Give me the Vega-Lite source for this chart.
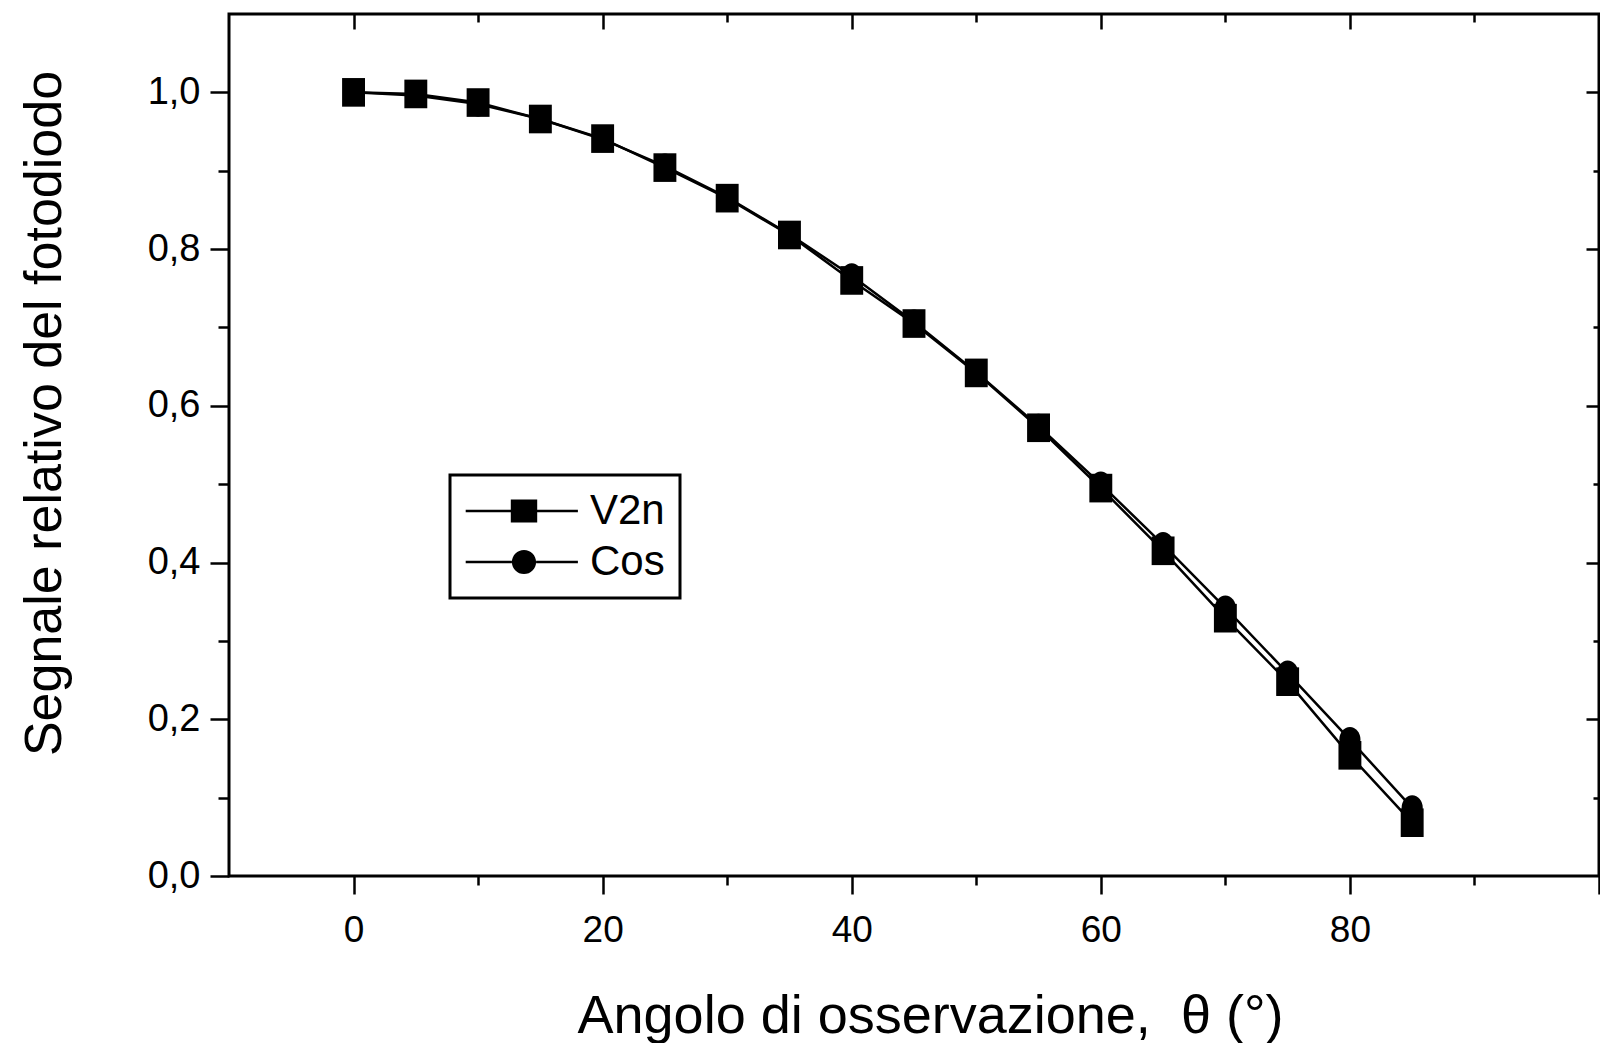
{
  "$schema": "https://vega.github.io/schema/vega-lite/v6.json",
  "width": 1370,
  "height": 862,
  "autosize": "none",
  "padding": {"left": 229, "top": 14, "right": 1, "bottom": 167},
  "background": "white",
  "config": {"view": {"stroke": "black", "strokeWidth": 3}, "font": "Liberation Sans", "legend": {"strokeWidth": 3}},
  "data": {"values": [
    {"angle": 0, "series": "V2n", "value": 1.0},
    {"angle": 5, "series": "V2n", "value": 0.998},
    {"angle": 10, "series": "V2n", "value": 0.987},
    {"angle": 15, "series": "V2n", "value": 0.966},
    {"angle": 20, "series": "V2n", "value": 0.941},
    {"angle": 25, "series": "V2n", "value": 0.904},
    {"angle": 30, "series": "V2n", "value": 0.865},
    {"angle": 35, "series": "V2n", "value": 0.818},
    {"angle": 40, "series": "V2n", "value": 0.760},
    {"angle": 45, "series": "V2n", "value": 0.705},
    {"angle": 50, "series": "V2n", "value": 0.642},
    {"angle": 55, "series": "V2n", "value": 0.572},
    {"angle": 60, "series": "V2n", "value": 0.495},
    {"angle": 65, "series": "V2n", "value": 0.415},
    {"angle": 70, "series": "V2n", "value": 0.329},
    {"angle": 75, "series": "V2n", "value": 0.248},
    {"angle": 80, "series": "V2n", "value": 0.154},
    {"angle": 85, "series": "V2n", "value": 0.068},
    {"angle": 0, "series": "Cos", "value": 1.0},
    {"angle": 5, "series": "Cos", "value": 0.996},
    {"angle": 10, "series": "Cos", "value": 0.985},
    {"angle": 15, "series": "Cos", "value": 0.966},
    {"angle": 20, "series": "Cos", "value": 0.940},
    {"angle": 25, "series": "Cos", "value": 0.906},
    {"angle": 30, "series": "Cos", "value": 0.866},
    {"angle": 35, "series": "Cos", "value": 0.819},
    {"angle": 40, "series": "Cos", "value": 0.766},
    {"angle": 45, "series": "Cos", "value": 0.707},
    {"angle": 50, "series": "Cos", "value": 0.643},
    {"angle": 55, "series": "Cos", "value": 0.574},
    {"angle": 60, "series": "Cos", "value": 0.500},
    {"angle": 65, "series": "Cos", "value": 0.423},
    {"angle": 70, "series": "Cos", "value": 0.342},
    {"angle": 75, "series": "Cos", "value": 0.259},
    {"angle": 80, "series": "Cos", "value": 0.174},
    {"angle": 85, "series": "Cos", "value": 0.087}
  ]},
  "resolve": {"axis": {"x": "independent", "y": "independent"}},
  "layer": [
    {
      "mark": {"type": "line", "color": "black", "strokeWidth": 2.5},
      "encoding": {
        "x": {"field": "angle", "type": "quantitative",
          "scale": {"domain": [-10, 100], "nice": false, "zero": false},
          "axis": {"orient": "bottom", "values": [0, 10, 20, 30, 40, 50, 60, 70, 80, 90, 100],
            "domain": false, "grid": false,
            "tickSize": {"condition": {"test": "datum.value % 20 === 0", "value": 18}, "value": 9},
            "tickWidth": 2.5, "tickColor": "black",
            "labelExpr": "datum.value % 20 === 0 && datum.value < 100 ? datum.label : ''",
            "labelFont": "Liberation Sans", "labelFontSize": 37, "labelColor": "black",
            "labelPadding": 18, "labelFlush": false, "labelOverlap": false,
            "title": "Angolo di osservazione,\u00a0\u00a0θ (°)",
            "titleFont": "Liberation Sans", "titleFontSize": 54, "titleFontWeight": "normal", "titleColor": "black",
            "titleX": 701, "titleY": 156, "titleAlign": "center", "titleBaseline": "alphabetic"}},
        "y": {"field": "value", "type": "quantitative",
          "scale": {"domain": [0, 1.1], "nice": false, "zero": false},
          "axis": {"orient": "left", "values": [0, 0.1, 0.2, 0.3, 0.4, 0.5, 0.6, 0.7, 0.8, 0.9, 1.0],
            "domain": false, "grid": false,
            "tickSize": {"condition": {"test": "round(datum.value*10) % 2 === 0", "value": 19}, "value": 11},
            "tickWidth": 2.5, "tickColor": "black",
            "labelExpr": "round(datum.value*10) % 2 === 0 ? replace(format(datum.value, '.1f'), '.', ',') : ''",
            "labelFont": "Liberation Sans", "labelFontSize": 38, "labelColor": "black",
            "labelPadding": 10, "labelFlush": false, "labelOverlap": false,
            "title": "Segnale relativo del fotodiodo",
            "titleFont": "Liberation Sans", "titleFontSize": 52, "titleFontWeight": "normal", "titleColor": "black",
            "titleX": -169, "titleY": 399, "titleAngle": 270, "titleAlign": "center", "titleBaseline": "alphabetic"}},
        "detail": {"field": "series", "type": "nominal"}
      }
    },
    {
      "transform": [{"filter": "datum.series === 'Cos'"}],
      "mark": {"type": "point", "filled": true, "color": "black", "opacity": 1, "size": 700,
        "shape": "M-0.8,0A0.8,0.95,0,1,1,0.8,0A0.8,0.95,0,1,1,-0.8,0Z"},
      "encoding": {
        "x": {"field": "angle", "type": "quantitative",
          "axis": {"orient": "top", "values": [0, 10, 20, 30, 40, 50, 60, 70, 80, 90],
            "domain": false, "grid": false, "labels": false, "title": null,
            "tickSize": {"condition": {"test": "datum.value % 20 === 0", "value": -15}, "value": -8},
            "tickWidth": 2.5, "tickColor": "black"}},
        "y": {"field": "value", "type": "quantitative",
          "axis": {"orient": "right", "values": [0.1, 0.2, 0.3, 0.4, 0.5, 0.6, 0.7, 0.8, 0.9, 1.0],
            "domain": false, "grid": false, "labels": false, "title": null,
            "tickSize": {"condition": {"test": "round(datum.value*10) % 2 === 0", "value": -13}, "value": -6},
            "tickWidth": 2.5, "tickColor": "black"}}
      }
    },
    {
      "transform": [{"filter": "datum.series === 'V2n'"}],
      "mark": {"type": "point", "filled": true, "color": "black", "opacity": 1, "size": 820,
        "shape": "M-0.8,-1H0.8V1H-0.8Z"},
      "encoding": {
        "x": {"field": "angle", "type": "quantitative", "axis": null},
        "y": {"field": "value", "type": "quantitative", "axis": null}
      }
    },
    {
      "mark": {"type": "point", "filled": true, "color": "black", "opacity": 0},
      "encoding": {
        "x": {"field": "angle", "type": "quantitative", "axis": null},
        "y": {"field": "value", "type": "quantitative", "axis": null},
        "shape": {"field": "series", "type": "nominal",
          "scale": {"domain": ["V2n", "Cos"],
            "range": ["M-5.3,-0.12H-1.2V0.12H-5.3Z M1.2,-0.12H4.9V0.12H1.2Z M-1.2,-1.05H1.2V1.05H-1.2Z",
                      "M-5.3,-0.12H-1.1V0.12H-5.3Z M1.1,-0.12H4.9V0.12H1.1Z M-1.1,0A1.1,1.1,0,1,1,1.1,0A1.1,1.1,0,1,1,-1.1,0Z"]},
          "legend": {"title": null, "orient": "none", "legendX": 221, "legendY": 461,
            "padding": 15, "strokeColor": "black", "fillColor": "white",
            "labelFont": "Liberation Sans", "labelFontSize": 42, "labelColor": "black",
            "symbolSize": 484, "symbolOffset": 38, "labelOffset": 45, "rowPadding": 9,
            "symbolFillColor": "black", "symbolStrokeColor": "black", "symbolStrokeWidth": 0,
            "symbolOpacity": 1,
            "encode": {
              "symbols": {"opacity": {"value": 1}, "fill": {"value": "black"}}}}}
      }
    }
  ]
}
